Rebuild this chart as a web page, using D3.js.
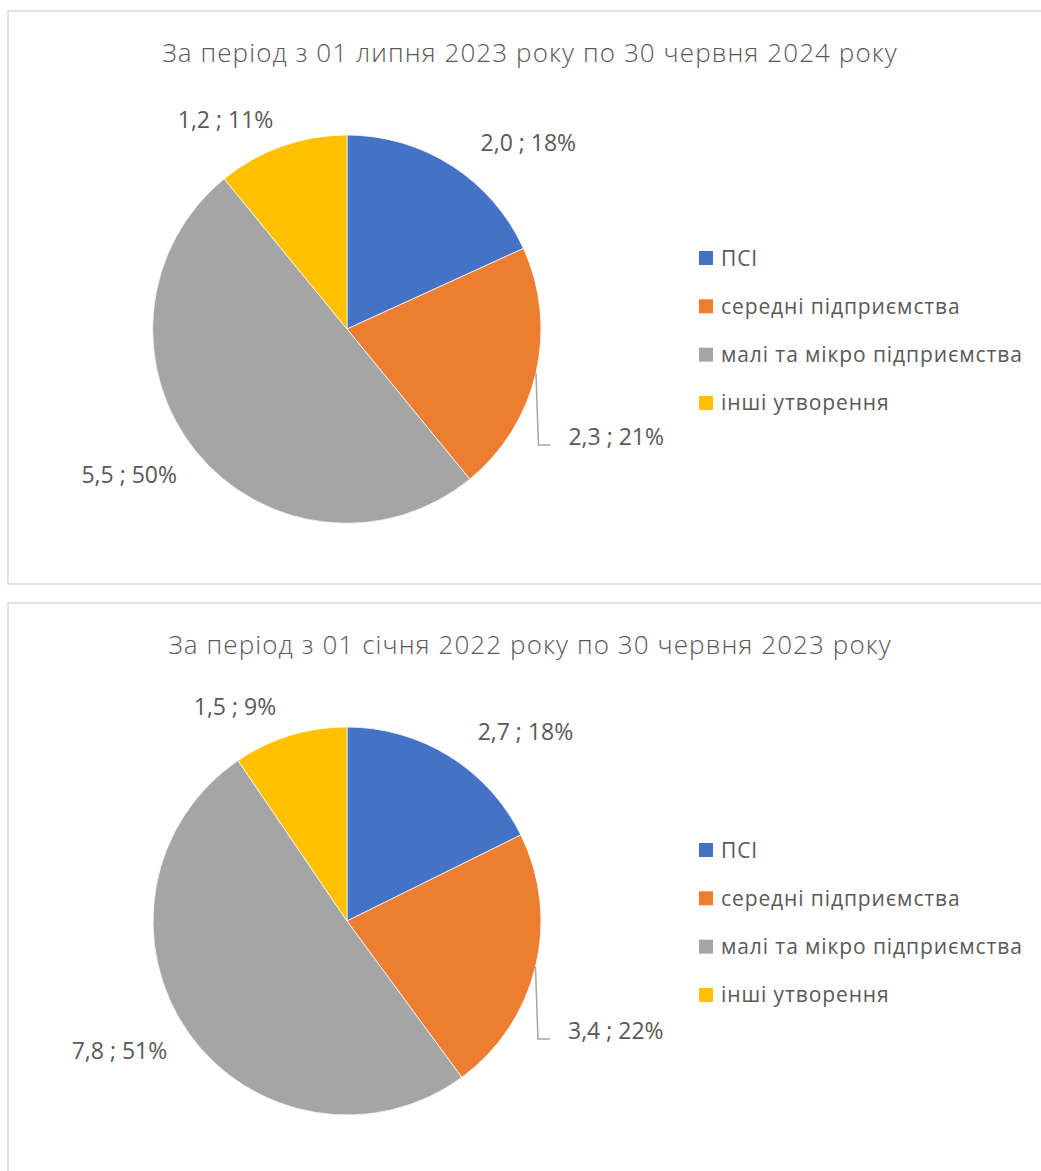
<!DOCTYPE html>
<html>
<head>
<meta charset="utf-8">
<script src="https://cdn.jsdelivr.net/npm/d3@7"></script>
<style>
  html, body { margin: 0; padding: 0; background: #ffffff; }
  svg { display: block; }
  text { font-family: "Open Sans", Lato, sans-serif; fill: #595959; }
</style>
</head>
<body>
<svg id="chart" width="1041" height="1171"></svg>
<script>
// ---- data ----
const categories = ["ПСІ", "середні підприємства", "малі та мікро підприємства", "інші утворення"];
const titles = [
  "За період з 01 липня 2023 року по 30 червня 2024 року",
  "За період з 01 січня 2022 року по 30 червня 2023 року"
];
const values2024 = [2.0, 2.3, 5.5, 1.2];
const values2023 = [2.72, 3.42, 7.78, 1.46];
const labels2024 = ["2,0 ; 18%", "2,3 ; 21%", "5,5 ; 50%", "1,2 ; 11%"];
const labels2023 = ["2,7 ; 18%", "3,4 ; 22%", "7,8 ; 51%", "1,5 ; 9%"];
const colors = ["#4472C4", "#ED7D31", "#A5A5A5", "#FFC000"];

// ---- layout ----
const svg = d3.select("#chart");
const panels = [
  { top: 11, bottom: 584, title: titles[0], values: values2024, labels: labels2024 },
  { top: 603, bottom: 1190, title: titles[1], values: values2023, labels: labels2023 }
];
const frameLeft = 8, frameRight = 1052;
const R = 194;
const pieCx = 347;
// label placement per slice (angle shift in degrees, distance from centre)
const labelLayout = [
  { shift: 11.5, dist: 260 },
  null, // leader line
  { shift: 5.5, dist: 262 },
  { shift: -10.5, dist: 242 }
];

const color = d3.scaleOrdinal().domain(categories).range(colors);
const pie = d3.pie().sort(null).value(d => d.v);
const arc = d3.arc().innerRadius(0).outerRadius(R);

panels.forEach(p => {
  const g = svg.append("g");
  g.append("rect")
    .attr("x", frameLeft).attr("y", p.top)
    .attr("width", frameRight - frameLeft).attr("height", p.bottom - p.top)
    .attr("fill", "#fff").attr("stroke", "#D9D9D9").attr("stroke-width", 1.5);

  g.append("text")
    .attr("x", (frameLeft + frameRight) / 2)
    .attr("y", p.top + 51)
    .attr("text-anchor", "middle")
    .style("font-size", "26px")
    .style("font-weight", 300)
    .style("letter-spacing", "1.1px")
    .text(p.title);

  const cy = p.top + 318;
  const data = categories.map((c, i) => ({ c, v: p.values[i], label: p.labels[i] }));
  const arcs = pie(data);
  const pg = g.append("g").attr("transform", `translate(${pieCx},${cy})`);
  pg.selectAll("path").data(arcs).join("path")
    .attr("d", arc)
    .attr("fill", d => color(d.data.c))
    .attr("stroke", "#fff").attr("stroke-width", 0.75);

  arcs.forEach((a, i) => {
    const mid = (a.startAngle + a.endAngle) / 2;
    const lay = labelLayout[i];
    if (lay) {
      const ang = mid + lay.shift * Math.PI / 180;
      const x = Math.sin(ang) * lay.dist;
      const y = -Math.cos(ang) * lay.dist;
      pg.append("text")
        .attr("x", x).attr("y", y + 8.5)
        .attr("text-anchor", "middle")
        .style("font-size", "23px")
        .text(a.data.label);
    } else {
      const x0 = Math.sin(mid) * R, y0 = -Math.cos(mid) * R;
      const x1 = x0 + 2.5, y1 = y0 + 72;
      const x2 = x1 + 12;
      pg.append("path")
        .attr("d", `M${x0},${y0}L${x1},${y1}L${x2},${y1}`)
        .attr("fill", "none").attr("stroke", "#A6A6A6").attr("stroke-width", 1.5);
      pg.append("text")
        .attr("x", x2 + 18).attr("y", y1)
        .attr("text-anchor", "start")
        .style("font-size", "23px")
        .text(a.data.label);
    }
  });

  const lg = g.append("g").attr("transform", `translate(699,${p.top + 247})`);
  const items = lg.selectAll("g").data(categories).join("g")
    .attr("transform", (d, i) => `translate(0,${i * 48.3})`);
  items.append("rect").attr("x", 0).attr("y", -7).attr("width", 14).attr("height", 14)
    .attr("fill", d => color(d));
  items.append("text").attr("x", 22).attr("y", 7.5)
    .style("font-size", "21px")
    .style("letter-spacing", "0.9px")
    .text(d => d);
});
</script>
</body>
</html>
